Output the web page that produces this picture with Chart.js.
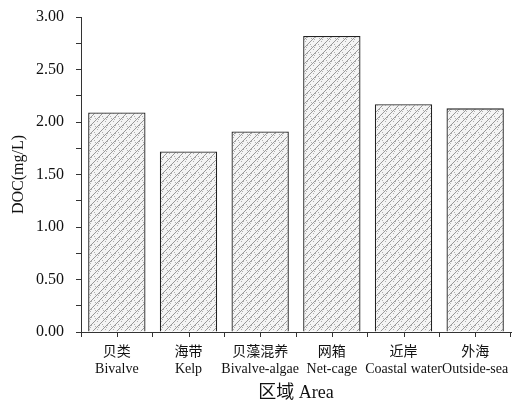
<!DOCTYPE html>
<html>
<head>
<meta charset="utf-8">
<script src="https://cdn.jsdelivr.net/npm/chart.js@4.4.0/dist/chart.umd.min.js"></script>
<style>
  html, body { margin: 0; padding: 0; background: #fff; }
  #wrap { width: 532px; height: 406px; position: relative; }
</style>
</head>
<body>
<div id="wrap"><canvas id="grafica"></canvas></div>
<script>
// datos
const categories = [
    ['贝类', 'Bivalve'],
    ['海带', 'Kelp'],
    ['贝藻混养', 'Bivalve-algae'],
    ['网箱', 'Net-cage'],
    ['近岸', 'Coastal water'],
    ['外海', 'Outside-sea']
];
const docValues = [2.09, 1.72, 1.91, 2.82, 2.17, 2.13];
const yTickLabels = ['0.00', '0.50', '1.00', '1.50', '2.00', '2.50', '3.00'];
const yTitle = 'DOC(mg/L)';
const xTitle = '区域 Area';

const FONT = "'Liberation Serif', 'Noto Sans CJK SC', serif";
const AXIS = '#333';

// relleno rayado con puntos, como en la figura
function crearPatron() {
    const c = document.createElement('canvas');
    c.width = 8; c.height = 8;
    const g = c.getContext('2d');
    g.fillStyle = '#f4f4f4';
    g.fillRect(0, 0, 8, 8);
    g.fillStyle = '#b0b0b0';
    [[1, 1], [5, 2], [3, 5], [7, 6], [2, 7], [6, 4]].forEach(p => g.fillRect(p[0], p[1], 1, 1));
    g.strokeStyle = '#909090';
    g.lineWidth = 0.9;
    g.beginPath();
    g.moveTo(-1, 9); g.lineTo(9, -1);
    g.moveTo(-1, 1); g.lineTo(1, -1);
    g.moveTo(7, 9); g.lineTo(9, 7);
    g.stroke();
    return g.createPattern(c, 'repeat');
}

// marcas extra del eje x en el centro de cada categoria
const marcasCentro = {
    id: 'marcasCentro',
    afterDraw(chart) {
        const x = chart.scales.x;
        const ctx = chart.ctx;
        ctx.save();
        ctx.strokeStyle = AXIS;
        ctx.lineWidth = 1;
        ctx.beginPath();
        categories.forEach((c, i) => {
            const px = Math.round(x.getPixelForValue(i)) + 0.5;
            ctx.moveTo(px, x.top);
            ctx.lineTo(px, x.top + 5);
        });
        ctx.stroke();
        ctx.restore();
    }
};

const ctx = document.getElementById('grafica').getContext('2d');
new Chart(ctx, {
    type: 'bar',
    data: {
        labels: categories,
        datasets: [{
            data: docValues,
            backgroundColor: crearPatron(),
            borderColor: '#222',
            borderWidth: 1.3,
            borderSkipped: 'bottom',
            categoryPercentage: 0.8,
            barPercentage: 1.0
        }]
    },
    options: {
        responsive: true,
        maintainAspectRatio: false,
        animation: false,
        layout: { padding: { top: 17, right: 21, left: 9, bottom: 2 } },
        plugins: {
            legend: { display: false },
            tooltip: { enabled: false }
        },
        scales: {
            x: {
                offset: true,
                border: { display: true, color: AXIS, width: 1 },
                grid: { offset: true, drawOnChartArea: false, tickLength: 5, color: AXIS },
                ticks: {
                    color: '#111',
                    font: { family: FONT, size: 14 },
                    padding: 7,
                    maxRotation: 0,
                    autoSkip: false
                },
                title: {
                    display: true,
                    text: xTitle,
                    color: '#111',
                    font: { family: FONT, size: 18 },
                    padding: { top: 5, bottom: 0 }
                },
                afterFit: s => { s.height = 72; }
            },
            y: {
                min: 0,
                max: 3,
                border: { display: true, color: AXIS, width: 1 },
                grid: { drawOnChartArea: false, tickLength: 5, color: AXIS },
                ticks: {
                    stepSize: 0.25,
                    autoSkip: false,
                    color: '#111',
                    font: { family: FONT, size: 16 },
                    padding: 12,
                    callback: v => {
                        const k = v * 2;
                        return Math.abs(k - Math.round(k)) < 1e-6 ? yTickLabels[Math.round(k)] : '';
                    }
                },
                title: {
                    display: true,
                    text: yTitle,
                    color: '#111',
                    font: { family: FONT, size: 16 },
                    padding: { top: 0, bottom: 4 }
                },
                afterFit: s => { s.width = 72; s.paddingTop = 0; s.paddingBottom = 0; }
            }
        }
    },
    plugins: [marcasCentro]
});
</script>
</body>
</html>
